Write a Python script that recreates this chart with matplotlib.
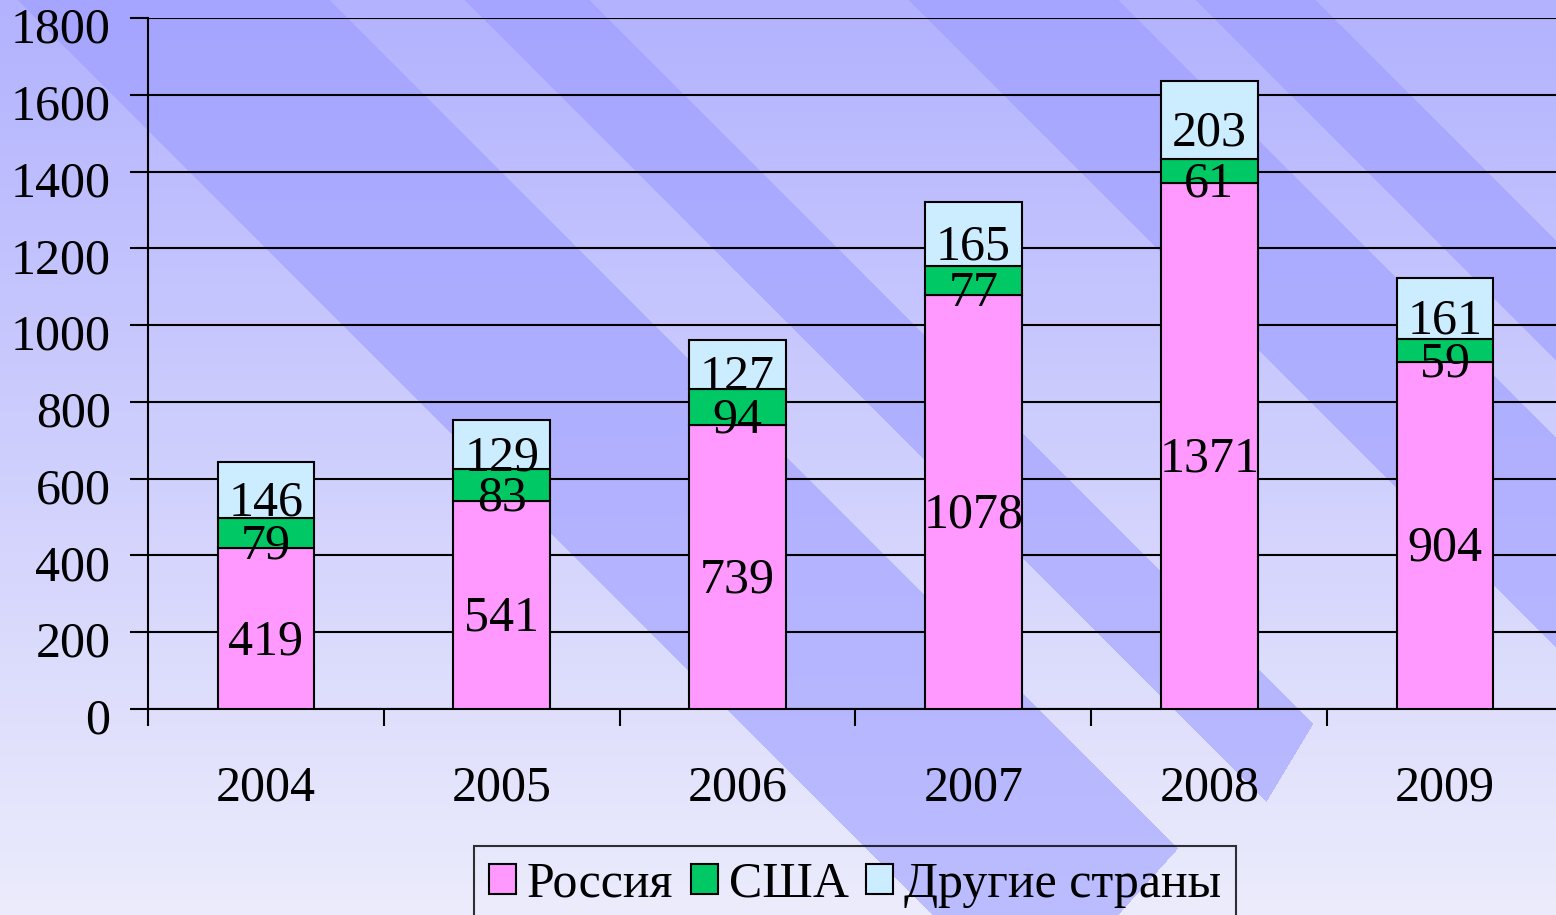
import numpy as np
import matplotlib.pyplot as plt
import matplotlib.transforms as mtransforms

# данные
years = ['2004', '2005', '2006', '2007', '2008', '2009']
russia = [419, 541, 739, 1078, 1371, 904]
usa = [79, 83, 94, 77, 61, 59]
other = [146, 129, 127, 165, 203, 161]

c_russia = '#FF99FF'
c_usa = '#00C864'
c_other = '#CCECFF'

plt.rcParams['font.family'] = ['Liberation Serif', 'DejaVu Serif']

W, H = 1556, 915
fig = plt.figure(figsize=(W / 100, H / 100), dpi=100)

# фон: светлый градиент + тёмные диагональные ленты
bg = fig.add_axes([0, 0, 1, 1])
yy, xx = np.mgrid[0:H, 0:W].astype(float)
t = (yy / H)[..., None]
light = np.array([178, 178, 255]) / 255 * (1 - t) + np.array([236, 236, 252]) / 255 * t
dark = np.array([165, 165, 255]) / 255 * (1 - t) + np.array([188, 188, 255]) / 255 * t
u = xx - yy  # сдвиг вдоль диагонали
mask = np.zeros((H, W), dtype=bool)
mask |= (u > 17) & (u < 330) & (xx + 0.9 * yy < 1941)
mask |= (u > 464) & (u < 590) & (xx + 0.6 * yy < 1747)
mask |= (u > 908) & (u < 1119)
mask |= (u > 1195) & (u < 1316)
img = np.where(mask[..., None], dark, light)
bg.imshow(np.clip(img, 0, 1), aspect='auto', extent=[0, 1, 0, 1], zorder=0, interpolation='bilinear')
bg.axis('off')

ax = fig.add_axes([148 / W, 206 / H, 1415 / W, 691 / H])
ax.set_facecolor('none')

x = np.arange(len(years))
bw = 0.41
bottom2 = np.array(russia)
bottom3 = bottom2 + np.array(usa)
kw = dict(edgecolor='black', linewidth=1.5, zorder=3)
b1 = ax.bar(x, russia, bw, color=c_russia, label='Россия', **kw)
b2 = ax.bar(x, usa, bw, bottom=bottom2, color=c_usa, label='США', **kw)
b3 = ax.bar(x, other, bw, bottom=bottom3, color=c_other, label='Другие страны', **kw)

for bars in (b1, b2, b3):
    for txt in ax.bar_label(bars, label_type='center', fontsize=36, color='black'):
        txt.xyann = (0, -9.5)

ax.set_xlim(-0.5, 5.5)
ax.set_ylim(0, 1800)
ax.set_yticks(range(0, 1801, 200))
ax.set_xticks(x)
ax.set_xticklabels(years)
ax.set_xticks(np.arange(-0.5, 6, 1), minor=True)
ax.tick_params(axis='x', which='major', length=0, pad=40, labelsize=36)
ax.tick_params(axis='x', which='minor', length=12, width=1.5, direction='out')
ax.tick_params(axis='y', length=13, width=1.5, labelsize=36, pad=14)
shift = mtransforms.ScaledTranslation(0, -7 / 100, fig.dpi_scale_trans)
for lab in ax.get_yticklabels():
    lab.set_transform(lab.get_transform() + shift)
ax.grid(axis='y', color='black', linewidth=1.5, zorder=1)
ax.set_axisbelow(True)
for s in ['top', 'right']:
    ax.spines[s].set_visible(False)
ax.spines['left'].set_linewidth(1.5)
ax.spines['bottom'].set_linewidth(1.5)

leg = fig.legend(handles=[b1, b2, b3], loc='upper center', bbox_to_anchor=(855 / W, 1 - 846 / H),
                 bbox_transform=fig.transFigure, borderaxespad=0,
                 ncol=3, fontsize=36, frameon=True, fancybox=False, handlelength=0.54, handleheight=0.54,
                 handletextpad=0.22, columnspacing=0.35, borderpad=0.3)
leg.get_frame().set_edgecolor('black')
leg.get_frame().set_linewidth(1.5)
leg.get_frame().set_facecolor('none')

fig.savefig('out.png', dpi=100)
